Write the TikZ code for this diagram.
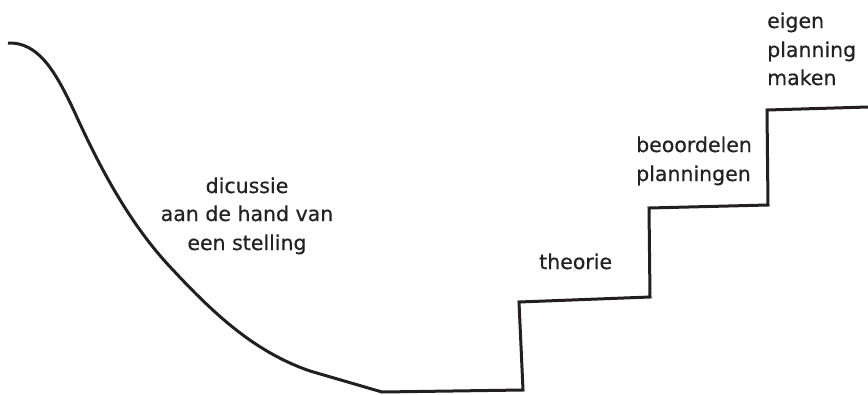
\documentclass[tikz,border=0pt]{standalone}
\usepackage{fontspec}
\setmainfont{DejaVu Sans}
\newfontfamily\lblfont[FakeBold=0.5]{DejaVu Sans}
\definecolor{ink}{HTML}{231F20}
\definecolor{txt}{HTML}{222222}
\begin{document}
\begin{tikzpicture}[x=1pt,y=-1pt,
  lbl/.style={inner sep=0pt, text=txt, font=\lblfont\fontsize{20.5}{28}\selectfont},
  stair/.style={draw=ink, line width=3pt, line join=miter, line cap=butt}]
\useasboundingbox (0,0) rectangle (868,394);
\draw[stair] (8,43) .. controls (38,42) and (55,70) .. (75,113)
  .. controls (100,168) and (130,225) .. (173,270)
  .. controls (215,315) and (255,352) .. (310,371)
  -- (382,392) -- (523,390) -- (519,302) -- (650,297) -- (649,208) -- (768,205) -- (767,110) -- (868,107);
\node[lbl, anchor=base] (d1) at (247,193) {dicussie};
\node[lbl, anchor=base] (d2) at (247,221) {aan de hand van};
\node[lbl, anchor=base] (d3) at (247,250) {een stelling};
\node[lbl, anchor=base west] (t1) at (539,269) {theorie};
\node[lbl, anchor=base west] (b1) at (636,152) {beoordelen};
\node[lbl, anchor=base west] (b2) at (636,181) {planningen};
\node[lbl, anchor=base west] (e1) at (767,28) {eigen};
\node[lbl, anchor=base west] (e2) at (767,57) {planning};
\node[lbl, anchor=base west] (e3) at (767,85) {maken};
\end{tikzpicture}
\end{document}
